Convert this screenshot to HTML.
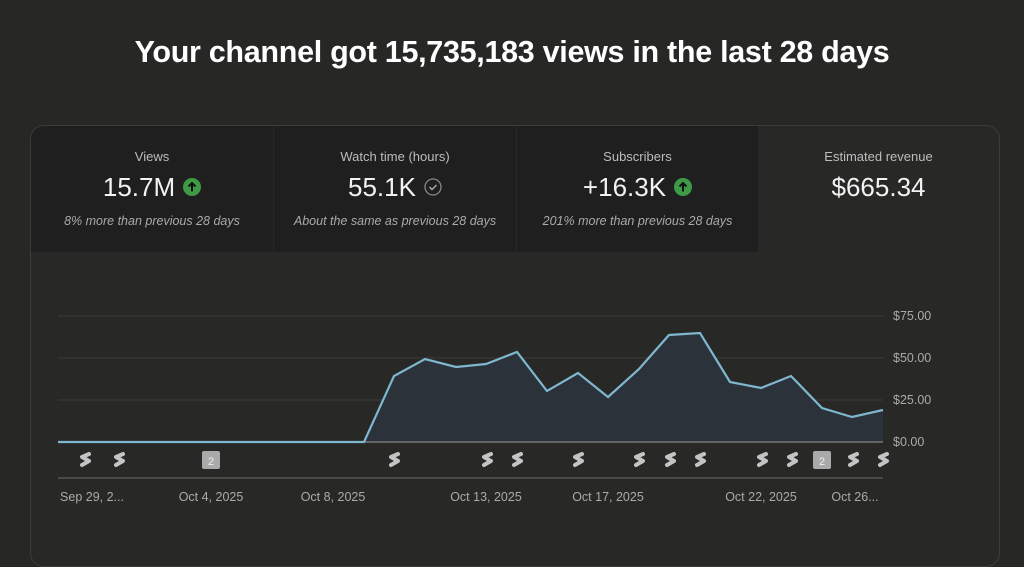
<!DOCTYPE html>
<html><head><style>
body{margin:0;width:1024px;height:545px;background:#272725;overflow:hidden;font-family:"Liberation Sans",sans-serif;color:#fff;position:relative}
.title{position:absolute;top:35px;left:0;width:1024px;text-align:center;font-size:30.5px;font-weight:bold;letter-spacing:-0.3px}
.card{position:absolute;left:30px;top:125px;width:968px;height:440px;border:1px solid #3c3c3a;border-radius:14px;background:#282826;overflow:hidden}
.tile{position:absolute;top:0;height:126px;text-align:center}
.dark{background:#1f1f1f}
.lab{position:absolute;top:23px;width:100%;font-size:13px;color:#bdbdbd}
.val{position:absolute;top:46px;width:100%;font-size:26px;color:#f2f2f2;display:flex;justify-content:center;align-items:center;height:30px}
.sub{position:absolute;top:88px;width:100%;font-size:12.5px;font-style:italic;color:#aaa}
.ic{width:18px;height:18px;margin-left:8px;display:block}
</style></head><body>
<div class="title">Your channel got 15,735,183 views in the last 28 days</div>
<div class="card">
<div class="tile dark" style="left:0;width:242px"><div class="lab">Views</div><div class="val">15.7M<svg class="ic" width="18" height="18"><circle cx="9" cy="9" r="9" fill="#3f9a45"/><path d="M9 13.5V5M5.5 8.5L9 5l3.5 3.5" stroke="#111" stroke-width="2" fill="none"/></svg></div><div class="sub">8% more than previous 28 days</div></div>
<div class="tile dark" style="left:243px;width:242px"><div class="lab">Watch time (hours)</div><div class="val">55.1K<svg class="ic" width="18" height="18"><circle cx="9" cy="9" r="8" fill="none" stroke="#888" stroke-width="1.3"/><path d="M5.5 9l2.5 2.5 4.5-4.5" stroke="#aaa" stroke-width="1.5" fill="none"/></svg></div><div class="sub">About the same as previous 28 days</div></div>
<div class="tile dark" style="left:486px;width:241px"><div class="lab">Subscribers</div><div class="val">+16.3K<svg class="ic" width="18" height="18"><circle cx="9" cy="9" r="9" fill="#3f9a45"/><path d="M9 13.5V5M5.5 8.5L9 5l3.5 3.5" stroke="#111" stroke-width="2" fill="none"/></svg></div><div class="sub">201% more than previous 28 days</div></div>
<div class="tile" style="left:727px;width:241px"><div class="lab">Estimated revenue</div><div class="val">$665.34</div></div>
</div>
<svg style="position:absolute;left:0;top:0" width="1024" height="545">
<g stroke="#3a3a38" stroke-width="1"><line x1="58" y1="316" x2="883" y2="316"/><line x1="58" y1="358" x2="883" y2="358"/><line x1="58" y1="400" x2="883" y2="400"/></g>
<path d="M58 442 L364 442 L394 376 L425 359 L456 367 L486 364 L517 352 L547 391 L578 373 L608 397 L639 369 L669 335 L700 333 L730 382 L761 388 L791 376 L822 408 L852 417 L883 410 L883 442 Z" fill="#2b323a"/>
<line x1="58" y1="442" x2="883" y2="442" stroke="#777" stroke-width="1.5"/>
<polyline points="58,442 364,442 394,376 425,359 456,367 486,364 517,352 547,391 578,373 608,397 639,369 669,335 700,333 730,382 761,388 791,376 822,408 852,417 883,410" fill="none" stroke="#7fb7cf" stroke-width="2.2"/>
<line x1="58" y1="478" x2="883" y2="478" stroke="#555" stroke-width="1.5"/>
<g font-size="12.5" fill="#aaa" font-family="Liberation Sans"><text x="893" y="320">$75.00</text><text x="893" y="362">$50.00</text><text x="893" y="404">$25.00</text><text x="893" y="446">$0.00</text></g>
<g font-size="12.5" fill="#aaa" font-family="Liberation Sans" text-anchor="middle"><text x="92" y="501">Sep 29, 2...</text><text x="211" y="501">Oct 4, 2025</text><text x="333" y="501">Oct 8, 2025</text><text x="486" y="501">Oct 13, 2025</text><text x="608" y="501">Oct 17, 2025</text><text x="761" y="501">Oct 22, 2025</text><text x="855" y="501">Oct 26...</text></g>
<g stroke="#c4c4c4" stroke-width="4" stroke-linecap="round" stroke-linejoin="round" fill="none">
<path d="M92 454l-7 3 7 4-7 4" transform="translate(-3,0)"/>
<path d="M123 454l-7 3 7 4-7 4"/>
<path d="M398 454l-7 3 7 4-7 4"/>
<path d="M491 454l-7 3 7 4-7 4"/>
<path d="M521 454l-7 3 7 4-7 4"/>
<path d="M582 454l-7 3 7 4-7 4"/>
<path d="M643 454l-7 3 7 4-7 4"/>
<path d="M674 454l-7 3 7 4-7 4"/>
<path d="M704 454l-7 3 7 4-7 4"/>
<path d="M766 454l-7 3 7 4-7 4"/>
<path d="M796 454l-7 3 7 4-7 4"/>
<path d="M857 454l-7 3 7 4-7 4"/>
<path d="M887 454l-7 3 7 4-7 4"/>
</g>
<rect x="202" y="451" width="18" height="18" rx="2" fill="#aaa"/><text x="211" y="465" font-size="11" fill="#eee" text-anchor="middle" font-family="Liberation Sans">2</text>
<rect x="813" y="451" width="18" height="18" rx="2" fill="#aaa"/><text x="822" y="465" font-size="11" fill="#eee" text-anchor="middle" font-family="Liberation Sans">2</text>
</svg>
</body></html>
